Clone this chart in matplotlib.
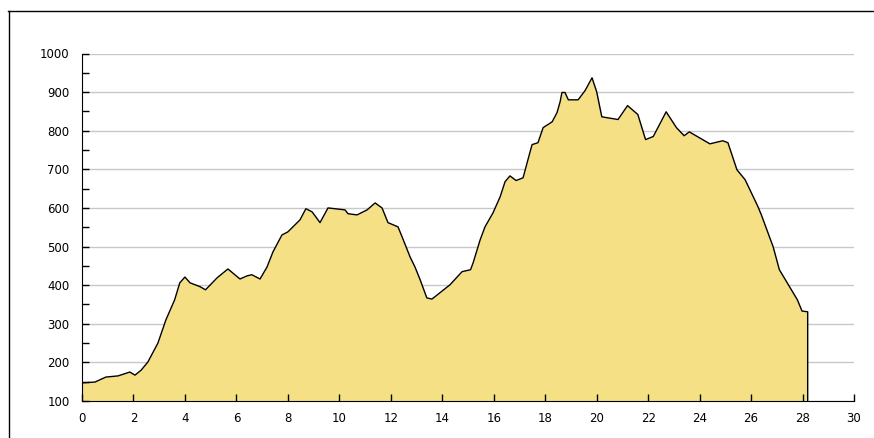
import numpy as np
import matplotlib.pyplot as plt
from matplotlib.lines import Line2D

# distance (km) and elevation (m)
dist = [0, 0.5, 0.93, 1.4, 1.86, 2.06, 2.3, 2.56, 2.95, 3.26, 3.6, 3.8, 4.0, 4.2,
        4.59, 4.8, 5.25, 5.67, 6.14, 6.41, 6.6, 6.92, 7.19, 7.42, 7.77, 8.0, 8.47,
        8.7, 8.94, 9.25, 9.56, 10.22, 10.34, 10.69, 11.08, 11.39, 11.66, 11.89,
        12.28, 12.44, 12.75, 12.94, 13.14, 13.4, 13.6, 14.3, 14.77, 15.1, 15.2,
        15.47, 15.66, 15.97, 16.25, 16.44, 16.63, 16.87, 17.14, 17.33, 17.49,
        17.72, 17.92, 18.27, 18.46, 18.58, 18.65, 18.77, 18.9, 19.28, 19.55,
        19.82, 20.0, 20.2, 20.83, 21.2, 21.6, 21.9, 22.2, 22.7, 23.1, 23.4, 23.6,
        24.4, 24.9, 25.1, 25.45, 25.77, 26.27, 26.4, 26.86, 27.1, 27.8, 27.98, 28.2]
elev = [147, 149, 162, 165, 175, 167, 180, 201, 250, 310, 362, 406, 421, 406,
        396, 388, 419, 442, 416, 424, 427, 416, 447, 486, 530, 538, 569,
        598, 590, 562, 600, 595, 585, 582, 595, 613, 600, 562,
        551, 525, 473, 447, 414, 367, 364, 401, 435, 440, 458,
        517, 551, 587, 629, 668, 683, 671, 678, 725, 764,
        769, 808, 823, 847, 875, 899, 899, 880, 880, 904,
        937, 901, 836, 829, 865, 842, 777, 785, 849, 808, 787, 797,
        766, 774, 769, 699, 673, 603, 582, 499, 440, 362, 333, 331]

x_ticks = list(range(0, 31, 2))
y_ticks = list(range(100, 1001, 100))
fill_color = '#f6e085'

plt.rcParams['font.family'] = 'DejaVu Sans'
plt.rcParams['font.size'] = 8.5

fig = plt.figure(figsize=(8.74, 4.38), dpi=100)
ax = fig.add_axes([82 / 874, 1 - 401 / 438, 772 / 874, 347.5 / 438])

for yv in y_ticks:
    ax.axhline(yv, color='#c8c8c8', lw=1, zorder=0)

base = y_ticks[0]
ax.fill_between(dist, elev, base, color=fill_color, lw=0, zorder=1)
ax.plot(dist + [dist[-1]], elev + [base], color='black', lw=1, zorder=2)

ax.set_xlim(0, 30)
ax.set_ylim(100, 1000)
ax.set_xticks(x_ticks)
ax.set_yticks(y_ticks)
ax.set_yticks(range(150, 1000, 100), minor=True)
ax.tick_params(axis='both', which='both', direction='in', length=5,
               width=1, color='black', labelcolor='black')
ax.tick_params(axis='x', pad=8)
ax.tick_params(axis='y', pad=9)
ax.spines['top'].set_visible(False)
ax.spines['right'].set_visible(False)
ax.spines['left'].set_zorder(3)
ax.spines['bottom'].set_zorder(3)

# outer frame lines (left and top)
fig.add_artist(Line2D([8.5 / 874, 8.5 / 874], [0, 1 - 10.5 / 438], color='black', lw=1))
fig.add_artist(Line2D([8 / 874, 1], [1 - 10.5 / 438, 1 - 10.5 / 438], color='black', lw=1))

fig.savefig('out.png', dpi=100)
